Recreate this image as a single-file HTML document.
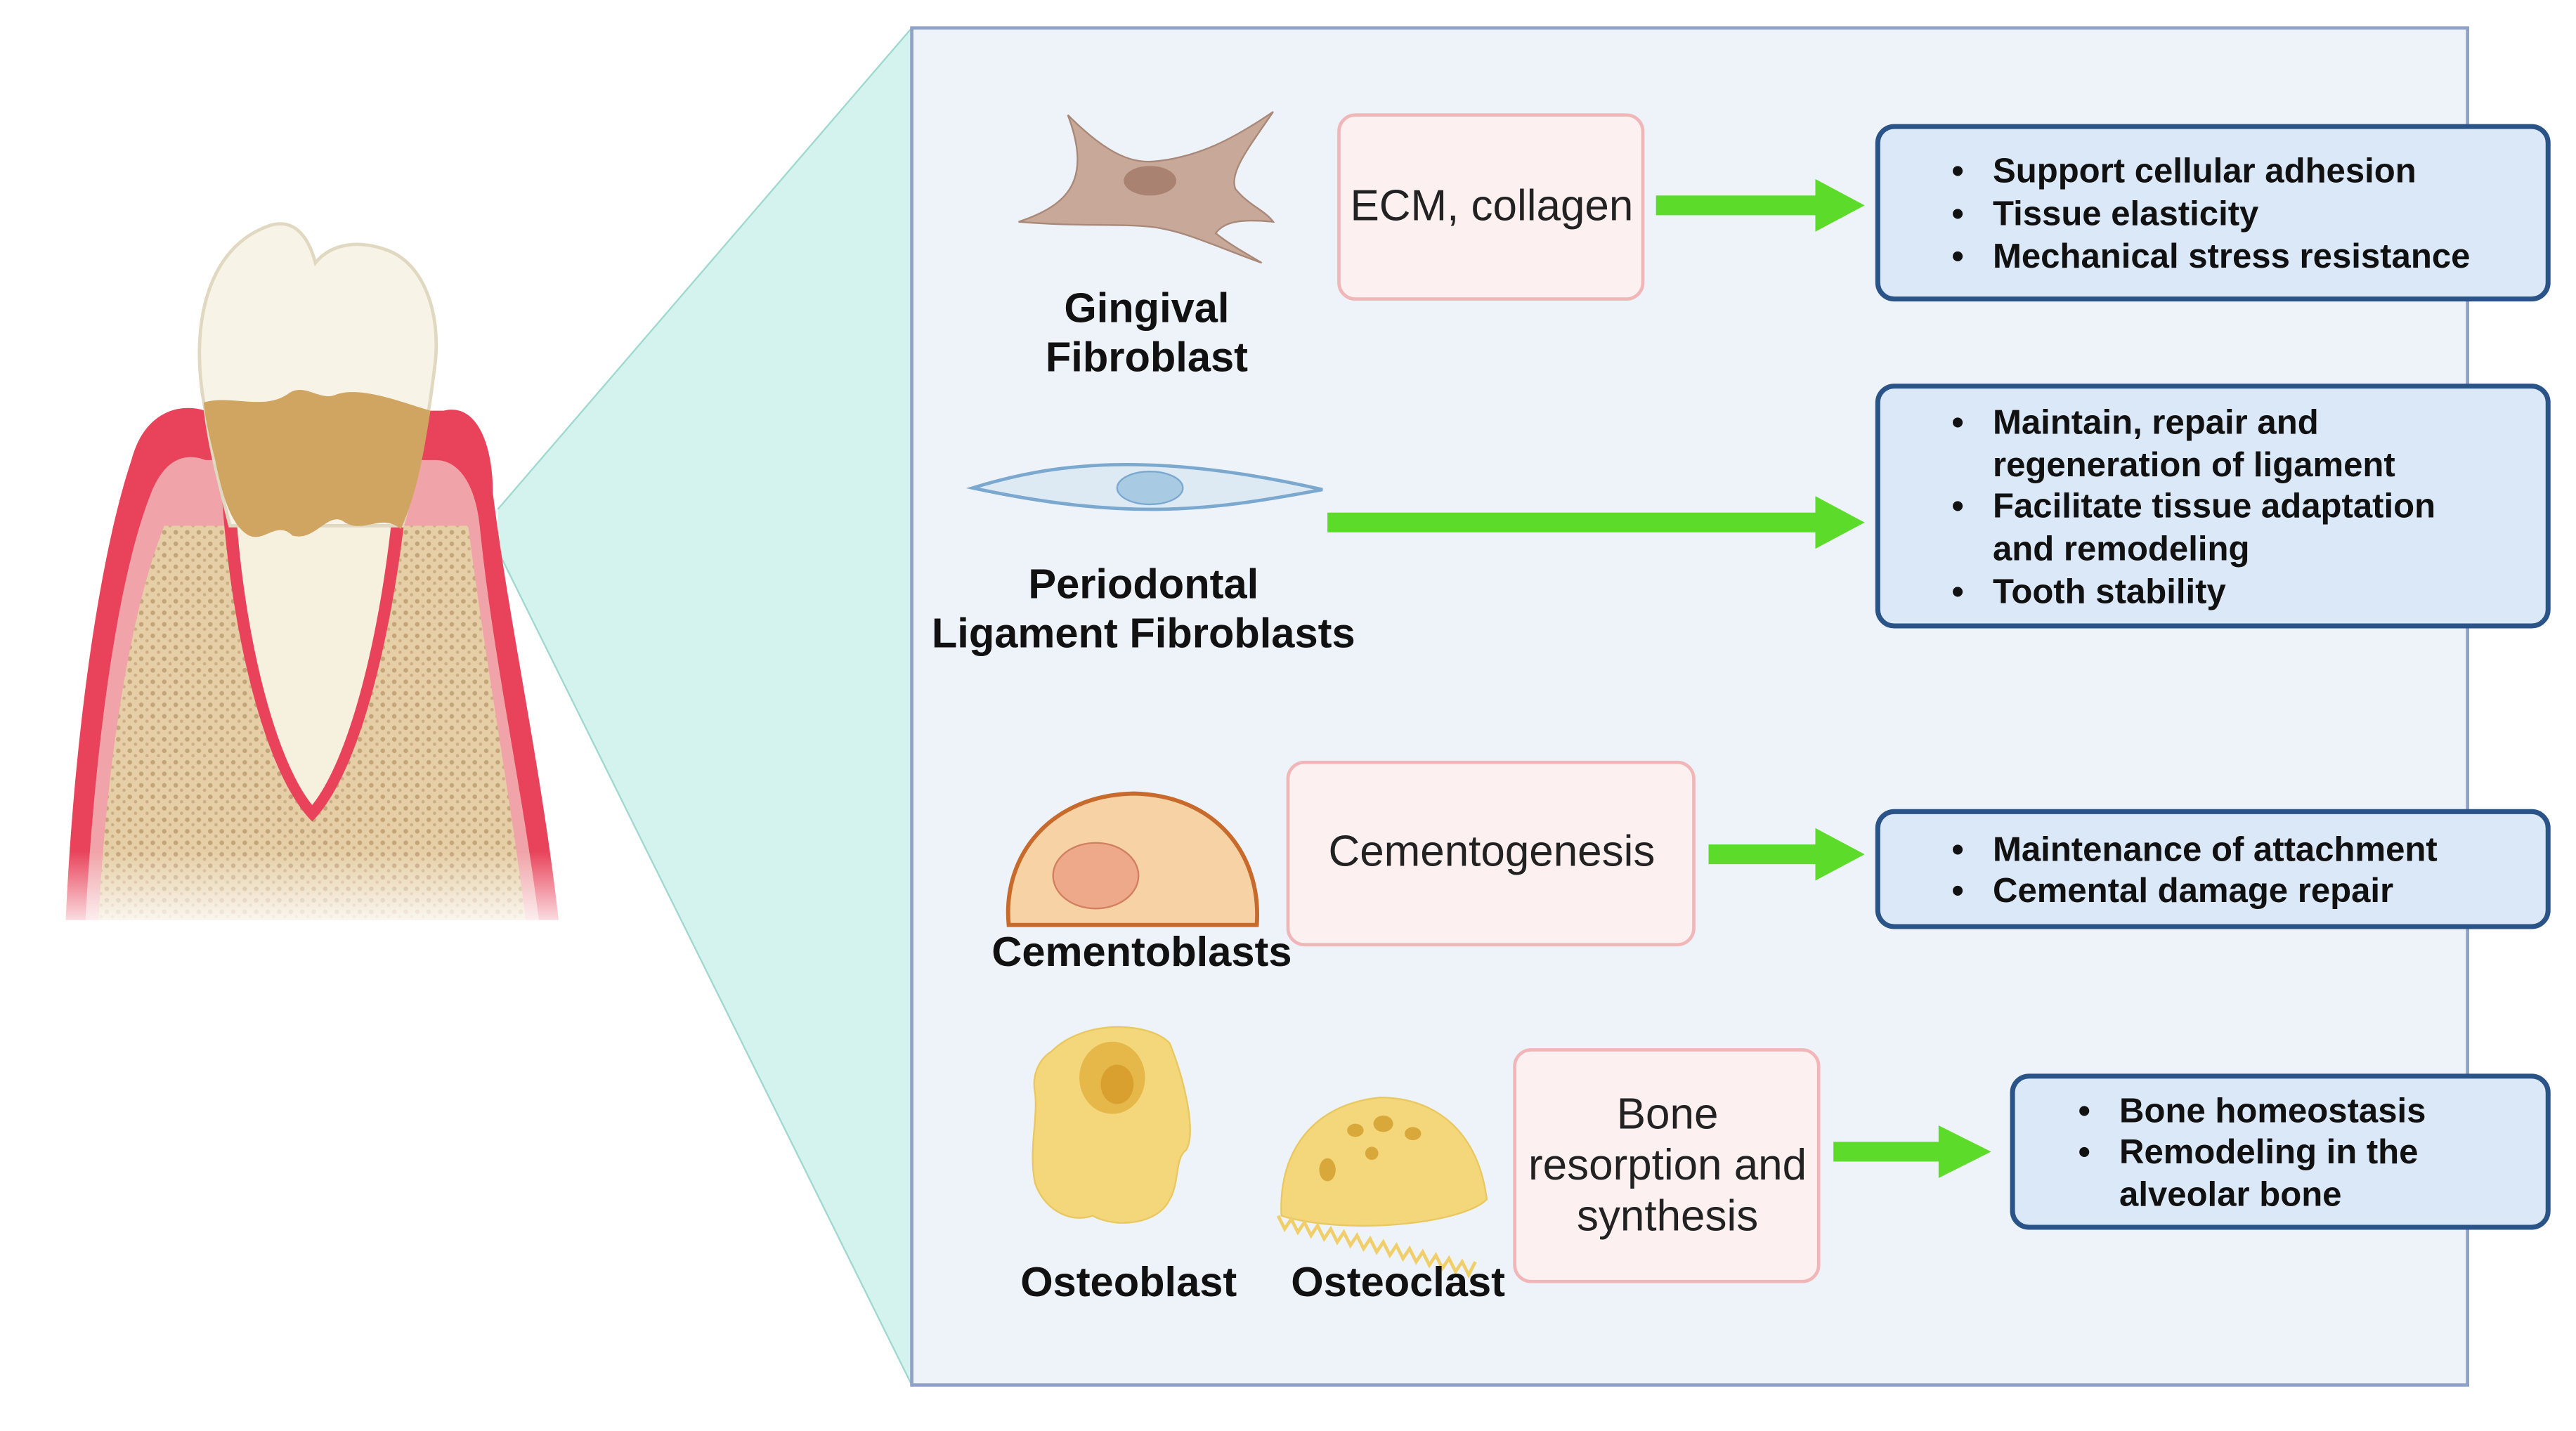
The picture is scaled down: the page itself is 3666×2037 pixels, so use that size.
<!DOCTYPE html>
<html><head><meta charset="utf-8"><style>
html,body{margin:0;padding:0;background:#fff;}
svg{display:block;}
text{font-family:"Liberation Sans",sans-serif;}
</style></head><body>
<svg width="3666" height="2037" viewBox="0 0 1568 871" preserveAspectRatio="none" xmlns="http://www.w3.org/2000/svg">
<defs>
<linearGradient id="fade" x1="0" y1="0" x2="0" y2="1">
<stop offset="0.6" stop-color="#fff" stop-opacity="0"/><stop offset="1" stop-color="#fff" stop-opacity="1"/>
</linearGradient>
<pattern id="dots" width="7" height="7" patternUnits="userSpaceOnUse">
<rect width="7" height="7" fill="#e6cfa6"/><circle cx="2" cy="2" r="1.4" fill="#c4a57a"/><circle cx="5.5" cy="5" r="1" fill="#cdae84"/>
</pattern>
</defs>
<!-- teal zoom wedge -->
<polygon points="303,310 555,17 555,843 303,335" fill="#d5f3ee"/>
<line x1="303" y1="310" x2="555" y2="17" stroke="#9fd8cf" stroke-width="1"/>
<line x1="303" y1="335" x2="555" y2="843" stroke="#9fd8cf" stroke-width="1"/>
<!-- panel -->
<rect x="555" y="17" width="947" height="826" fill="#eef2f9" stroke="#8fa1c9" stroke-width="2"/>

<!-- tooth -->
<path d="M40,560 C45,450 60,340 80,280 C88,250 110,245 125,250 L270,250 C290,245 300,270 300,300 C310,380 330,470 340,560 Z" fill="#e8435a"/>
<path d="M52,560 C58,450 72,350 92,300 C100,280 112,275 125,280 L265,280 C282,280 290,300 292,320 C300,400 318,480 328,560 Z" fill="#f0a3a8"/>
<path d="M60,560 C65,460 80,370 100,320 L285,320 C295,400 310,480 320,560 Z" fill="url(#dots)"/>
<path d="M135,300 C140,380 160,470 190,500 C220,470 240,380 248,300 Z" fill="#e8435a"/>
<path d="M143,300 C147,380 166,460 190,490 C214,460 233,380 240,300 Z" fill="#f6f0df"/>
<path d="M125,250 C115,200 125,150 165,137 C180,133 188,145 192,160 C200,150 215,145 235,152 C258,160 268,190 265,220 C262,245 258,275 245,320 L140,320 C135,300 128,275 125,250 Z" fill="#f7f3e6" stroke="#e0d8c0" stroke-width="2"/>
<path d="M124,245 C140,240 160,250 175,240 C185,232 195,245 205,240 C220,235 245,245 262,250 C258,275 254,300 244,322 C232,312 222,325 210,318 C200,310 192,330 178,326 C168,316 160,332 150,325 C140,318 135,300 131,280 C128,268 125,256 124,245 Z" fill="#cfa561"/>
<rect x="30" y="440" width="330" height="130" fill="url(#fade)"/>

<!-- gingival fibroblast -->
<path d="M620,135 C650,125 665,110 650,70 C675,95 690,100 705,98 C730,95 750,85 775,68 C760,90 748,105 752,115 C760,125 770,128 775,135 C755,133 745,135 740,142 C750,150 760,155 768,160 C740,150 720,140 700,138 C680,136 655,138 620,135 Z" fill="#c8a898" stroke="#a88878" stroke-width="1"/>
<ellipse cx="700" cy="110" rx="16" ry="9" fill="#a98272"/>
<text x="698" y="196" font-size="25.5" font-weight="bold" text-anchor="middle" fill="#111">Gingival</text>
<text x="698" y="226" font-size="25.5" font-weight="bold" text-anchor="middle" fill="#111">Fibroblast</text>

<rect x="815" y="70" width="185" height="112" rx="10" fill="#fdf0f0" stroke="#f0b6b8" stroke-width="2"/>
<text x="908" y="134" font-size="26.5" text-anchor="middle" fill="#222">ECM, collagen</text>
<rect x="1008" y="119" width="100" height="12" fill="#5ddb2a"/><polygon points="1105,109 1135,125 1105,141" fill="#5ddb2a"/>
<rect x="1143" y="77" width="408" height="105" rx="10" fill="#dbe8f7" stroke="#2a5387" stroke-width="3"/>
<g font-size="21" font-weight="bold" fill="#111">
<text x="1188" y="111">•</text><text x="1213" y="111">Support cellular adhesion</text>
<text x="1188" y="137">•</text><text x="1213" y="137">Tissue elasticity</text>
<text x="1188" y="163">•</text><text x="1213" y="163">Mechanical stress resistance</text>
</g>

<!-- PDL fibroblast -->
<path d="M592,297 C640,282 700,274 805,298 C740,310 690,318 592,297 Z" fill="#dde9f3" stroke="#7aa8cf" stroke-width="2"/>
<ellipse cx="700" cy="297" rx="20" ry="10" fill="#a9cae3" stroke="#7aa8cf"/>
<text x="696" y="364" font-size="25.5" font-weight="bold" text-anchor="middle" fill="#111">Periodontal</text>
<text x="696" y="394" font-size="25.5" font-weight="bold" text-anchor="middle" fill="#111">Ligament Fibroblasts</text>
<rect x="808" y="312" width="300" height="12" fill="#5ddb2a"/><polygon points="1105,302 1135,318 1105,334" fill="#5ddb2a"/>
<rect x="1143" y="235" width="408" height="146" rx="10" fill="#dbe8f7" stroke="#2a5387" stroke-width="3"/>
<g font-size="21" font-weight="bold" fill="#111">
<text x="1188" y="264">•</text><text x="1213" y="264">Maintain, repair and</text>
<text x="1213" y="290">regeneration of ligament</text>
<text x="1188" y="315">•</text><text x="1213" y="315">Facilitate tissue adaptation</text>
<text x="1213" y="341">and remodeling</text>
<text x="1188" y="367">•</text><text x="1213" y="367">Tooth stability</text>
</g>

<!-- cementoblast -->
<path d="M614,563 C610,520 640,484 690,483 C740,484 768,520 765,563 Z" fill="#f7d2a5" stroke="#c86a2b" stroke-width="2.5"/>
<ellipse cx="667" cy="533" rx="26" ry="20" fill="#eea98a" stroke="#d08060"/>
<text x="695" y="588" font-size="25.5" font-weight="bold" text-anchor="middle" fill="#111">Cementoblasts</text>
<rect x="784" y="464" width="247" height="111" rx="10" fill="#fdf0f0" stroke="#f0b6b8" stroke-width="2"/>
<text x="908" y="527" font-size="26.5" text-anchor="middle" fill="#222">Cementogenesis</text>
<rect x="1040" y="514" width="68" height="12" fill="#5ddb2a"/><polygon points="1105,504 1135,520 1105,536" fill="#5ddb2a"/>
<rect x="1143" y="494" width="408" height="70" rx="10" fill="#dbe8f7" stroke="#2a5387" stroke-width="3"/>
<g font-size="21" font-weight="bold" fill="#111">
<text x="1188" y="524">•</text><text x="1213" y="524">Maintenance of attachment</text>
<text x="1188" y="549">•</text><text x="1213" y="549">Cemental damage repair</text>
</g>

<!-- osteoblast / osteoclast -->
<path d="M640,640 C660,620 700,622 712,635 C722,660 728,690 722,700 C715,705 718,720 712,730 C705,745 680,748 665,740 C650,745 635,735 630,720 C626,700 632,680 630,665 C628,655 632,645 640,640 Z" fill="#f4d77a" stroke="#e8c860"/>
<ellipse cx="677" cy="656" rx="20" ry="22" fill="#e6b84a"/><ellipse cx="680" cy="660" rx="10" ry="12" fill="#d9a030"/>
<path d="M780,740 C778,700 800,672 840,668 C875,668 900,690 905,730 C890,745 820,752 780,740 Z" fill="#f4d77a" stroke="#e8c860"/>
<path d="M778,740 l4,8 l4,-6 l4,8 l4,-6 l4,8 l4,-6 l4,8 l4,-6 l4,8 l4,-6 l4,8 l4,-6 l4,8 l4,-6 l4,8 l4,-6 l4,8 l4,-6 l4,8 l4,-6 l4,8 l4,-6 l4,8 l4,-6 l4,8 l4,-6 l4,8 l4,-6 l4,8 l4,-8" fill="none" stroke="#f0cf6a" stroke-width="2"/>
<g fill="#d9a83a"><ellipse cx="825" cy="688" rx="5" ry="4"/><ellipse cx="842" cy="684" rx="6" ry="5"/><ellipse cx="860" cy="690" rx="5" ry="4"/><ellipse cx="808" cy="712" rx="5" ry="7"/><ellipse cx="835" cy="702" rx="4" ry="4"/></g>
<text x="687" y="789" font-size="25.5" font-weight="bold" text-anchor="middle" fill="#111">Osteoblast</text>
<text x="851" y="789" font-size="25.5" font-weight="bold" text-anchor="middle" fill="#111">Osteoclast</text>
<rect x="922" y="639" width="185" height="141" rx="10" fill="#fdf0f0" stroke="#f0b6b8" stroke-width="2"/>
<g font-size="26.5" text-anchor="middle" fill="#222">
<text x="1015" y="687">Bone</text><text x="1015" y="718">resorption and</text><text x="1015" y="749">synthesis</text>
</g>
<rect x="1116" y="695" width="68" height="12" fill="#5ddb2a"/><polygon points="1180,685 1212,701 1180,717" fill="#5ddb2a"/>
<rect x="1225" y="655" width="326" height="92" rx="10" fill="#dbe8f7" stroke="#2a5387" stroke-width="3"/>
<g font-size="21" font-weight="bold" fill="#111">
<text x="1265" y="683">•</text><text x="1290" y="683">Bone homeostasis</text>
<text x="1265" y="708">•</text><text x="1290" y="708">Remodeling in the</text>
<text x="1290" y="734">alveolar bone</text>
</g>
</svg>
</body></html>
